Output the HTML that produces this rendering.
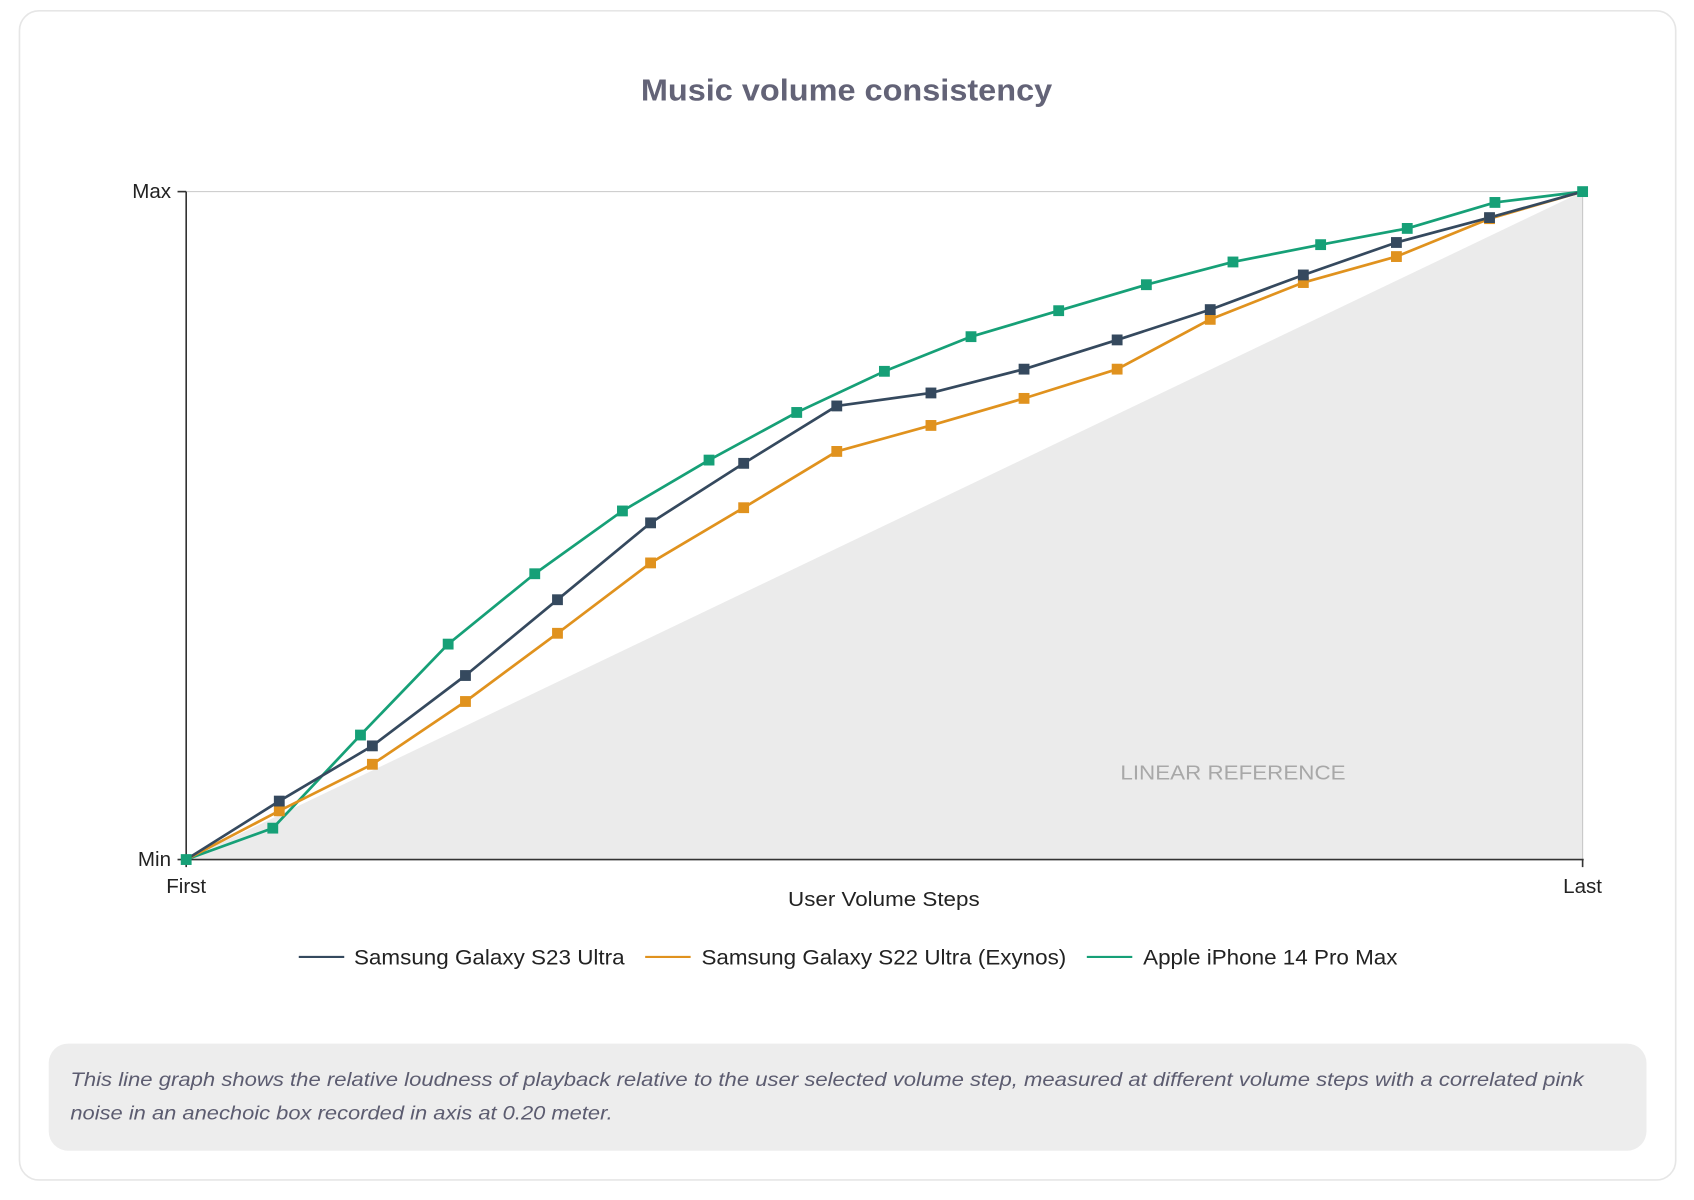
<!DOCTYPE html>
<html><head><meta charset="utf-8"><style>
html,body{margin:0;padding:0;background:#fff;}
svg{display:block;}
</style></head><body>
<svg width="1694" height="1200" viewBox="0 0 1564.9 1108.5" preserveAspectRatio="none" xmlns="http://www.w3.org/2000/svg" font-family="Liberation Sans, sans-serif">
<rect x="18" y="10" width="1530" height="1080" rx="18" fill="#fff" stroke="#e6e6e6" stroke-width="1.5"/>
<text x="592" y="93" font-size="28" font-weight="bold" fill="#5b5b70" textLength="380" lengthAdjust="spacingAndGlyphs" opacity="0.95">Music volume consistency</text>
<polygon points="172,794 1462,177 1462,794" fill="#ebebeb"/>
<line x1="172" y1="177" x2="1462" y2="177" stroke="#c8c8c8" stroke-width="1"/>
<line x1="1462" y1="177" x2="1462" y2="794" stroke="#c8c8c8" stroke-width="1"/>
<line x1="172" y1="177" x2="172" y2="795" stroke="#333" stroke-width="1.5"/>
<line x1="171" y1="794" x2="1463" y2="794" stroke="#333" stroke-width="1.5"/>
<line x1="164" y1="177" x2="172" y2="177" stroke="#333" stroke-width="1.5"/>
<line x1="164" y1="794" x2="172" y2="794" stroke="#333" stroke-width="1.5"/>
<line x1="172" y1="794" x2="172" y2="801" stroke="#333" stroke-width="1.5"/>
<line x1="1462" y1="794" x2="1462" y2="801" stroke="#333" stroke-width="1.5"/>
<g font-size="19" fill="#222">
<text x="158" y="183" text-anchor="end">Max</text>
<text x="158" y="800" text-anchor="end">Min</text>
<text x="172" y="825" text-anchor="middle">First</text>
<text x="1462" y="825" text-anchor="middle">Last</text>
<text x="728" y="837" textLength="177" lengthAdjust="spacingAndGlyphs">User Volume Steps</text>
</g>
<text x="1035" y="720" font-size="19" fill="#a8a8a8" textLength="208" lengthAdjust="spacingAndGlyphs">LINEAR REFERENCE</text>
<g fill="none" stroke-width="2.5" stroke-linejoin="round">
<polyline stroke="#16a077" points="172,794 252,765 333,679 414,595 494,530 575,472 655,425 736,381 817,343 897,311 978,287 1059,263 1139,242 1220,226 1300,211 1381,187 1462,177"/>
<polyline stroke="#e0921e" points="172,794 258,749 344,706 430,648 515,585 601,520 687,469 773,417 860,393 946,368 1032,341 1118,295 1204,261 1290,237 1376,202 1462,177"/>
<polyline stroke="#35495e" points="172,794 258,740 344,689 430,624 515,554 601,483 687,428 773,375 860,363 946,341 1032,314 1118,286 1204,254 1290,224 1376,201 1462,177"/>
</g>
<g fill="#e0921e">
<rect x="253" y="744" width="10" height="10"/><rect x="339" y="701" width="10" height="10"/><rect x="425" y="643" width="10" height="10"/><rect x="510" y="580" width="10" height="10"/><rect x="596" y="515" width="10" height="10"/><rect x="682" y="464" width="10" height="10"/><rect x="768" y="412" width="10" height="10"/><rect x="855" y="388" width="10" height="10"/><rect x="941" y="363" width="10" height="10"/><rect x="1027" y="336" width="10" height="10"/><rect x="1113" y="290" width="10" height="10"/><rect x="1199" y="256" width="10" height="10"/><rect x="1285" y="232" width="10" height="10"/><rect x="1371" y="197" width="10" height="10"/>
</g>
<g fill="#35495e">
<rect x="253" y="735" width="10" height="10"/><rect x="339" y="684" width="10" height="10"/><rect x="425" y="619" width="10" height="10"/><rect x="510" y="549" width="10" height="10"/><rect x="596" y="478" width="10" height="10"/><rect x="682" y="423" width="10" height="10"/><rect x="768" y="370" width="10" height="10"/><rect x="855" y="358" width="10" height="10"/><rect x="941" y="336" width="10" height="10"/><rect x="1027" y="309" width="10" height="10"/><rect x="1113" y="281" width="10" height="10"/><rect x="1199" y="249" width="10" height="10"/><rect x="1285" y="219" width="10" height="10"/><rect x="1371" y="196" width="10" height="10"/>
</g>
<g fill="#16a077">
<rect x="167" y="789" width="10" height="10"/><rect x="247" y="760" width="10" height="10"/><rect x="328" y="674" width="10" height="10"/><rect x="409" y="590" width="10" height="10"/><rect x="489" y="525" width="10" height="10"/><rect x="570" y="467" width="10" height="10"/><rect x="650" y="420" width="10" height="10"/><rect x="731" y="376" width="10" height="10"/><rect x="812" y="338" width="10" height="10"/><rect x="892" y="306" width="10" height="10"/><rect x="973" y="282" width="10" height="10"/><rect x="1054" y="258" width="10" height="10"/><rect x="1134" y="237" width="10" height="10"/><rect x="1215" y="221" width="10" height="10"/><rect x="1295" y="206" width="10" height="10"/><rect x="1376" y="182" width="10" height="10"/><rect x="1457" y="172" width="10" height="10"/>
</g>
<g font-size="19.5" fill="#222">
<line x1="276" y1="884" x2="318" y2="884" stroke="#35495e" stroke-width="2"/>
<text x="327" y="891" textLength="250" lengthAdjust="spacingAndGlyphs">Samsung Galaxy S23 Ultra</text>
<line x1="596" y1="884" x2="638" y2="884" stroke="#e0921e" stroke-width="2"/>
<text x="648" y="891" textLength="337" lengthAdjust="spacingAndGlyphs">Samsung Galaxy S22 Ultra (Exynos)</text>
<line x1="1004" y1="884" x2="1046" y2="884" stroke="#16a077" stroke-width="2"/>
<text x="1056" y="891" textLength="235" lengthAdjust="spacingAndGlyphs">Apple iPhone 14 Pro Max</text>
</g>
<rect x="45" y="964" width="1476" height="99" rx="18" fill="#ededed"/>
<g font-size="18" font-style="italic" fill="#5c5c70">
<text x="65" y="1003" textLength="1398" lengthAdjust="spacingAndGlyphs">This line graph shows the relative loudness of playback relative to the user selected volume step, measured at different volume steps with a correlated pink</text>
<text x="65" y="1034" textLength="501" lengthAdjust="spacingAndGlyphs">noise in an anechoic box recorded in axis at 0.20 meter.</text>
</g>
</svg>
</body></html>
